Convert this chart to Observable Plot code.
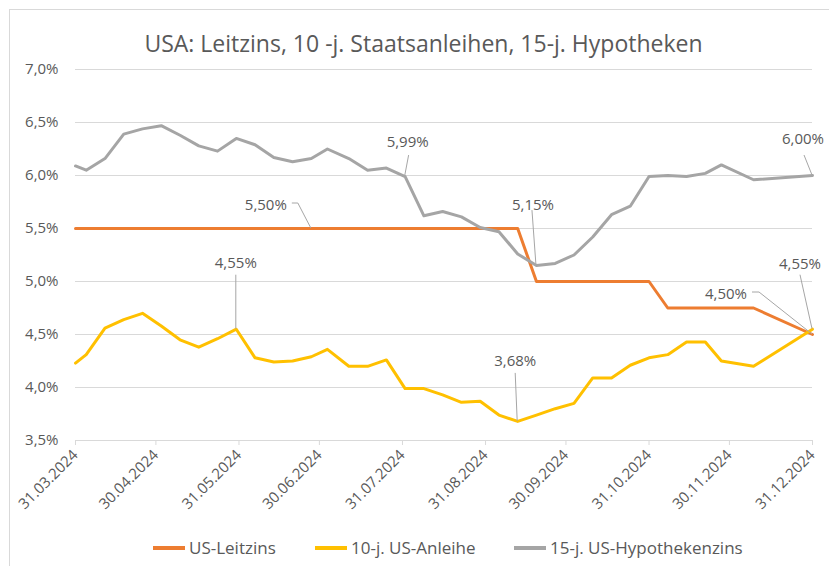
<!DOCTYPE html>
<html>
<head>
<meta charset="utf-8">
<script src="https://cdn.jsdelivr.net/npm/d3@7"></script>
<script src="https://cdn.jsdelivr.net/npm/@observablehq/plot@0.6"></script>
<style>
  body { margin: 0; background: #fff; font-family: "Open Sans", Roboto, sans-serif; }
  #wrap { position: relative; width: 829px; height: 566px; overflow: hidden; background: #fff; }
  #border { position: absolute; left: 9px; top: 9px; width: 840px; height: 580px; border: 1px solid #d9d9d9; box-sizing: border-box; }
  #chart { position: absolute; left: 0; top: 0; }
  #title { position: absolute; left: 0; top: 28px; width: 847px; text-align: center; font-size: 23px; color: #595959; line-height: 30px; }
  .leg { position: absolute; top: 537px; font-size: 17px; color: #595959; line-height: 22px; white-space: nowrap; }
  .sw { display: inline-block; width: 32px; height: 4px; vertical-align: middle; margin-right: 4px; position: relative; top: -1px; }
</style>
</head>
<body>
<div id="wrap">
  <div id="border"></div>
  <div id="chart"></div>
  <div id="title">USA: Leitzins, 10 -j. Staatsanleihen, 15-j. Hypotheken</div>
</div>
<script>
// ---- data ----
const dates = ["2024-03-31","2024-04-04","2024-04-11","2024-04-18","2024-04-25",
  "2024-05-02","2024-05-09","2024-05-16","2024-05-23","2024-05-30",
  "2024-06-06","2024-06-13","2024-06-20","2024-06-27",
  "2024-07-03","2024-07-11","2024-07-18","2024-07-25",
  "2024-08-01","2024-08-08","2024-08-15","2024-08-22","2024-08-29",
  "2024-09-05","2024-09-12","2024-09-19","2024-09-26",
  "2024-10-03","2024-10-10","2024-10-17","2024-10-24","2024-10-31",
  "2024-11-07","2024-11-14","2024-11-21","2024-11-27",
  "2024-12-09","2024-12-31"];
const leitzins = [5.50,5.50,5.50,5.50,5.50, 5.50,5.50,5.50,5.50,5.50, 5.50,5.50,5.50,5.50,
  5.50,5.50,5.50,5.50, 5.50,5.50,5.50,5.50,5.50, 5.50,5.50,5.00,5.00,
  5.00,5.00,5.00,5.00,5.00, 4.75,4.75,4.75,4.75, 4.75,4.50];
const anleihe = [4.23,4.31,4.56,4.64,4.70, 4.58,4.45,4.38,4.46,4.55, 4.28,4.24,4.25,4.29,
  4.36,4.20,4.20,4.26, 3.99,3.99,3.93,3.86,3.87, 3.74,3.68,3.74,3.80,
  3.85,4.09,4.09,4.21,4.28, 4.31,4.43,4.43,4.25, 4.20,4.55];
const hypothek = [6.09,6.05,6.16,6.39,6.44, 6.47,6.38,6.28,6.23,6.35, 6.29,6.17,6.13,6.16,
  6.25,6.16,6.05,6.07, 5.99,5.62,5.66,5.61,5.51, 5.47,5.26,5.15,5.17,
  5.25,5.42,5.63,5.71,5.99, 6.00,5.99,6.02,6.10, 5.96,6.00];
const xTicks = ["2024-03-31","2024-04-30","2024-05-31","2024-06-30","2024-07-31",
  "2024-08-31","2024-09-30","2024-10-31","2024-11-30","2024-12-31"];
const yTicks = [3.5,4.0,4.5,5.0,5.5,6.0,6.5,7.0];
const seriesNames = ["US-Leitzins","10-j. US-Anleihe","15-j. US-Hypothekenzins"];
// annotations: series, index of point, text
const annSeries = ["leitzins","anleihe","hypothek","hypothek","hypothek","anleihe","leitzins","anleihe"];
const annIndex  = [13, 9, 18, 25, 37, 24, 37, 37];
const annText   = ["5,50%","4,55%","5,99%","5,15%","6,00%","3,68%","4,50%","4,55%"];

// ---- build ----
const parse = d3.utcParse("%Y-%m-%d");
const rows = dates.map((d, i) => ({date: parse(d), leitzins: leitzins[i], anleihe: anleihe[i], hypothek: hypothek[i]}));
const colors = {leitzins: "#ED7D31", anleihe: "#FFC000", hypothek: "#A5A5A5"};
const fmtY = v => v.toFixed(1).replace(".", ",") + "%";
const fmtX = d3.utcFormat("%d.%m.%Y");

const chart = Plot.plot({
  width: 829,
  height: 566,
  marginLeft: 75,
  marginRight: 17,
  marginTop: 69,
  marginBottom: 126,
  style: {fontFamily: "'Open Sans', sans-serif", color: "#595959", background: "transparent"},
  x: {type: "utc", domain: [parse(xTicks[0]), parse(xTicks[xTicks.length - 1])]},
  y: {domain: [3.5, 7.0]},
  marks: [
    Plot.gridY(yTicks, {stroke: "#d9d9d9", strokeOpacity: 1, strokeWidth: 1}),
    Plot.axisY(yTicks, {tickSize: 0, tickPadding: 17, tickFormat: fmtY, fontSize: 15, fill: "#595959", label: null}),
    Plot.axisX(xTicks.map(parse), {tickSize: 5, stroke: "#d9d9d9", strokeOpacity: 1, tickRotate: -45, tickFormat: fmtX, fontSize: 15, fill: "#595959", label: null, tickPadding: 7}),
    Plot.lineY(rows, {x: "date", y: "leitzins", stroke: colors.leitzins, strokeWidth: 3, strokeLinejoin: "round"}),
    Plot.lineY(rows, {x: "date", y: "anleihe", stroke: colors.anleihe, strokeWidth: 3, strokeLinejoin: "round"}),
    Plot.lineY(rows, {x: "date", y: "hypothek", stroke: colors.hypothek, strokeWidth: 3, strokeLinejoin: "round"})
  ]
});
document.getElementById("chart").appendChild(chart);

// ---- annotations (leader lines from data points via the plot's scales) ----
const sx = chart.scale("x"), sy = chart.scale("y");
const layout = [
  {path: [[-13,-25],[-19,-25]], label: [-24,-24], anchor: "end"},
  {path: [[0,-54]], label: [0,-67], anchor: "middle"},
  {path: [[4,-21]], label: [3,-35], anchor: "middle"},
  {path: [[-4,-55]], label: [-3,-61], anchor: "middle"},
  {path: [[-8,-20]], label: [-9,-37], anchor: "middle"},
  {path: [[-2,-48]], label: [-2,-61], anchor: "middle"},
  {path: [[-53,-42],[-60,-42]], label: [-65,-41], anchor: "end"},
  {path: [[-12,-54]], label: [-12,-66], anchor: "middle"}
];
const svg = d3.select(chart);
const g = svg.append("g");
annText.forEach((t, i) => {
  const r = rows[annIndex[i]];
  const px = sx.apply(r.date), py = sy.apply(r[annSeries[i]]);
  const L = layout[i];
  const pts = [[px, py], ...L.path.map(([dx, dy]) => [px + dx, py + dy])];
  g.append("path").attr("d", d3.line()(pts)).attr("fill", "none").attr("stroke", "#a6a6a6").attr("stroke-width", 1);
  g.append("text").attr("x", px + L.label[0]).attr("y", py + L.label[1])
    .attr("text-anchor", L.anchor).attr("dominant-baseline", "central")
    .attr("font-size", 15).attr("fill", "#595959").text(t);
});

// ---- legend ----
const legX = [153, 315, 514];
const legC = [colors.leitzins, colors.anleihe, colors.hypothek];
const wrap = document.getElementById("wrap");
seriesNames.forEach((n, i) => {
  const d = document.createElement("div");
  d.className = "leg";
  d.style.left = legX[i] + "px";
  d.innerHTML = `<span class="sw" style="background:${legC[i]}"></span>${n}`;
  wrap.appendChild(d);
});
</script>
</body>
</html>
